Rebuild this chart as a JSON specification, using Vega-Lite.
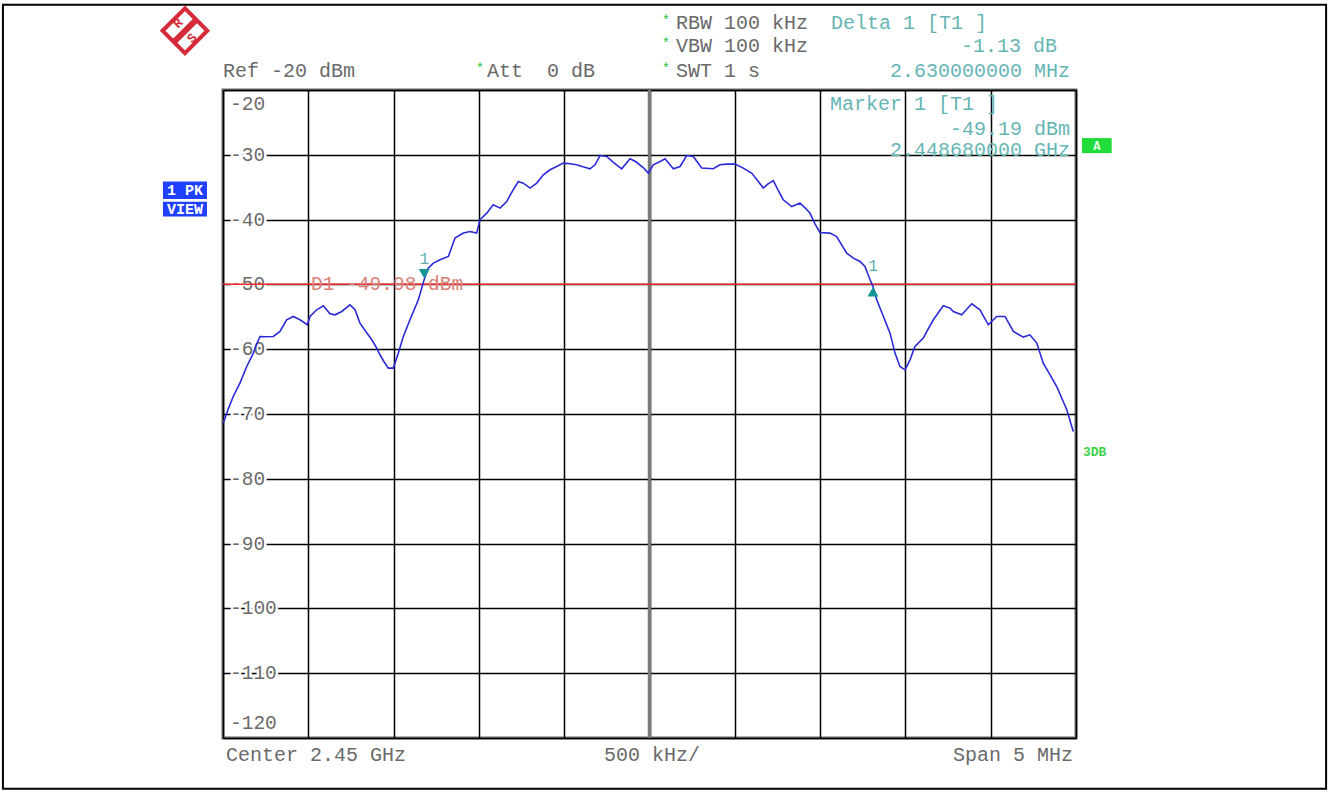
{
  "$schema": "https://vega.github.io/schema/vega-lite/v6.json",
  "width": 853,
  "height": 648,
  "autosize": {"type": "none"},
  "padding": {"left": 223, "top": 90, "right": 253, "bottom": 54},
  "background": "white",
  "config": {
    "view": {"stroke": "#6a6a6a", "strokeWidth": 3},
    "text": {"font": "Liberation Mono"}
  },
  "datasets": {
    "trace": [
      {"f":2447.502,"p":-71.40},{"f":2447.529,"p":-69.35},{"f":2447.560,"p":-67.30},{"f":2447.600,"p":-65.19},{"f":2447.639,"p":-62.67},{"f":2447.678,"p":-60.60},{"f":2447.693,"p":-59.48},{"f":2447.717,"p":-58.04},{"f":2447.752,"p":-58.09},{"f":2447.795,"p":-58.04},{"f":2447.834,"p":-57.27},{"f":2447.873,"p":-55.46},{"f":2447.912,"p":-54.95},{"f":2447.951,"p":-55.46},{"f":2447.994,"p":-56.23},{"f":2448.010,"p":-54.95},{"f":2448.049,"p":-53.92},{"f":2448.088,"p":-53.30},{"f":2448.127,"p":-54.54},{"f":2448.157,"p":-54.69},{"f":2448.196,"p":-54.18},{"f":2448.244,"p":-53.15},{"f":2448.274,"p":-53.92},{"f":2448.303,"p":-55.97},{"f":2448.338,"p":-57.31},{"f":2448.372,"p":-58.55},{"f":2448.397,"p":-59.63},{"f":2448.420,"p":-60.86},{"f":2448.444,"p":-61.94},{"f":2448.469,"p":-62.92},{"f":2448.498,"p":-62.92},{"f":2448.528,"p":-60.60},{"f":2448.557,"p":-58.04},{"f":2448.596,"p":-55.46},{"f":2448.645,"p":-52.38},{"f":2448.680,"p":-49.19},{"f":2448.703,"p":-47.48},{"f":2448.733,"p":-46.71},{"f":2448.772,"p":-46.20},{"f":2448.821,"p":-45.69},{"f":2448.860,"p":-42.85},{"f":2448.909,"p":-42.08},{"f":2448.948,"p":-41.84},{"f":2448.987,"p":-42.08},{"f":2449.006,"p":-40.03},{"f":2449.046,"p":-39.00},{"f":2449.084,"p":-37.72},{"f":2449.124,"p":-38.23},{"f":2449.163,"p":-37.21},{"f":2449.194,"p":-35.71},{"f":2449.231,"p":-34.12},{"f":2449.260,"p":-34.37},{"f":2449.300,"p":-35.14},{"f":2449.339,"p":-34.37},{"f":2449.378,"p":-33.09},{"f":2449.417,"p":-32.31},{"f":2449.456,"p":-31.81},{"f":2449.495,"p":-31.28},{"f":2449.534,"p":-31.39},{"f":2449.573,"p":-31.54},{"f":2449.610,"p":-31.85},{"f":2449.651,"p":-32.16},{"f":2449.681,"p":-31.54},{"f":2449.710,"p":-30.11},{"f":2449.749,"p":-30.26},{"f":2449.792,"p":-31.23},{"f":2449.837,"p":-32.16},{"f":2449.886,"p":-30.62},{"f":2449.921,"p":-31.08},{"f":2449.964,"p":-32.01},{"f":2449.993,"p":-32.82},{"f":2450.022,"p":-31.54},{"f":2450.062,"p":-31.03},{"f":2450.091,"p":-30.62},{"f":2450.140,"p":-32.16},{"f":2450.179,"p":-31.81},{"f":2450.218,"p":-30.11},{"f":2450.257,"p":-30.26},{"f":2450.306,"p":-32.05},{"f":2450.374,"p":-32.16},{"f":2450.413,"p":-31.54},{"f":2450.453,"p":-31.44},{"f":2450.501,"p":-31.44},{"f":2450.550,"p":-32.05},{"f":2450.599,"p":-32.82},{"f":2450.630,"p":-33.86},{"f":2450.667,"p":-35.14},{"f":2450.695,"p":-34.48},{"f":2450.726,"p":-33.97},{"f":2450.753,"p":-35.40},{"f":2450.784,"p":-36.94},{"f":2450.834,"p":-37.98},{"f":2450.882,"p":-37.45},{"f":2450.912,"p":-38.18},{"f":2450.941,"p":-39.00},{"f":2450.970,"p":-40.65},{"f":2450.999,"p":-41.99},{"f":2451.058,"p":-42.08},{"f":2451.097,"p":-42.61},{"f":2451.156,"p":-45.17},{"f":2451.195,"p":-45.94},{"f":2451.234,"p":-46.47},{"f":2451.263,"p":-47.24},{"f":2451.293,"p":-49.29},{"f":2451.310,"p":-50.32},{"f":2451.332,"p":-52.38},{"f":2451.371,"p":-54.95},{"f":2451.410,"p":-57.52},{"f":2451.439,"p":-60.60},{"f":2451.468,"p":-62.67},{"f":2451.498,"p":-63.18},{"f":2451.527,"p":-61.64},{"f":2451.556,"p":-59.58},{"f":2451.605,"p":-58.29},{"f":2451.625,"p":-57.27},{"f":2451.664,"p":-55.46},{"f":2451.722,"p":-53.30},{"f":2451.762,"p":-53.66},{"f":2451.781,"p":-54.18},{"f":2451.830,"p":-54.69},{"f":2451.889,"p":-52.99},{"f":2451.937,"p":-53.92},{"f":2451.986,"p":-56.23},{"f":2452.035,"p":-54.95},{"f":2452.084,"p":-54.95},{"f":2452.133,"p":-57.27},{"f":2452.191,"p":-58.13},{"f":2452.230,"p":-57.78},{"f":2452.270,"p":-59.06},{"f":2452.308,"p":-62.15},{"f":2452.348,"p":-63.95},{"f":2452.387,"p":-65.76},{"f":2452.446,"p":-69.35},{"f":2452.484,"p":-72.70}
    ],
    "ylabels": [
      {"f":2447.541,"p":-22.13,"t":"-20"},{"f":2447.541,"p":-30,"t":"-30"},{"f":2447.541,"p":-40,"t":"-40"},{"f":2447.541,"p":-50,"t":"-50"},{"f":2447.541,"p":-60,"t":"-60"},{"f":2447.541,"p":-70,"t":"-70"},{"f":2447.541,"p":-80,"t":"-80"},{"f":2447.541,"p":-90,"t":"-90"},{"f":2447.541,"p":-100,"t":"-100"},{"f":2447.541,"p":-110,"t":"-110"},{"f":2447.541,"p":-117.65,"t":"-120"}
    ]
  },
  "encoding": {
    "x": {"field": "f", "type": "quantitative", "scale": {"domain": [2447.5, 2452.5], "nice": false, "zero": false},
      "axis": {"title": null, "grid": true, "gridColor": "#000000", "gridWidth": 1.5, "gridOpacity": 1, "labels": false, "ticks": false, "domain": false, "tickCount": 10}},
    "y": {"field": "p", "type": "quantitative", "scale": {"domain": [-120, -20], "nice": false, "zero": false},
      "axis": {"title": null, "grid": true, "gridColor": "#000000", "gridWidth": 1.5, "gridOpacity": 1, "labels": false, "ticks": false, "domain": false, "tickCount": 10}}
  },
  "layer": [
    {
      "data": {"values": [{"f": 2446.21, "f2": 2453.966, "p": -6.85, "p2": -127.84}]},
      "mark": {"type": "rect", "filled": false, "stroke": "#000000", "strokeWidth": 2},
      "encoding": {"x2": {"field": "f2"}, "y2": {"field": "p2"}}
    },
    {
      "data": {"values": [{"f": 2450, "p": -20, "p2": -120}]},
      "mark": {"type": "rule", "color": "#7a7a7a", "strokeWidth": 3.5},
      "encoding": {"y2": {"field": "p2"}}
    },
    {
      "data": {"name": "ylabels"},
      "mark": {"type": "text", "align": "left", "baseline": "middle", "fontSize": 19.5, "color": "white", "stroke": "white", "strokeWidth": 5},
      "encoding": {"text": {"field": "t"}}
    },
    {
      "data": {"name": "ylabels"},
      "mark": {"type": "text", "align": "left", "baseline": "middle", "fontSize": 19.5, "color": "#6a6a6a"},
      "encoding": {"text": {"field": "t"}}
    },
    {
      "data": {"values": [{"f": 2447.5, "f2": 2452.5, "p": -49.98}]},
      "mark": {"type": "rule", "color": "#f02828", "strokeWidth": 1.5},
      "encoding": {"x2": {"field": "f2"}}
    },
    {
      "data": {"values": [{"f": 2448.016, "p": -49.98, "t": "D1 -49.98 dBm"}]},
      "mark": {"type": "text", "align": "left", "baseline": "middle", "fontSize": 19.5, "color": "#dc8078"},
      "encoding": {"text": {"field": "t"}}
    },
    {
      "data": {"name": "trace"},
      "mark": {"type": "line", "color": "#2a2ad8", "strokeWidth": 1.6, "interpolate": "linear"}
    },
    {
      "data": {"values": [{"f": 2448.68, "p": -48.37}]},
      "mark": {"type": "point", "shape": "triangle-down", "filled": true, "size": 120, "color": "#139595", "opacity": 1}
    },
    {
      "data": {"values": [{"f": 2451.31, "p": -51.14}]},
      "mark": {"type": "point", "shape": "triangle-up", "filled": true, "size": 120, "color": "#139595", "opacity": 1}
    },
    {
      "data": {"values": [{"f": 2448.68, "p": -46.05, "t": "1"}, {"f": 2451.31, "p": -47.13, "t": "1"}]},
      "mark": {"type": "text", "align": "center", "baseline": "middle", "fontSize": 16, "color": "#5fb0b0"},
      "encoding": {"text": {"field": "t"}}
    },
    {
      "data": {"values": [
        {"f": 2447.5, "p": -17.04, "t": "Ref -20 dBm"},
        {"f": 2449.048, "p": -17.04, "t": "Att\u00a0\u00a00 dB"},
        {"f": 2450.155, "p": -9.63, "t": "RBW 100 kHz"},
        {"f": 2450.155, "p": -13.18, "t": "VBW 100 kHz"},
        {"f": 2450.155, "p": -17.04, "t": "SWT 1 s"},
        {"f": 2447.518, "p": -122.59, "t": "Center 2.45 GHz"}
      ]},
      "mark": {"type": "text", "align": "left", "baseline": "middle", "fontSize": 20, "color": "#6a6a6a"},
      "encoding": {"text": {"field": "t"}}
    },
    {
      "data": {"values": [{"f": 2450.015, "p": -122.59, "t": "500 kHz/"}]},
      "mark": {"type": "text", "align": "center", "baseline": "middle", "fontSize": 20, "color": "#6a6a6a"},
      "encoding": {"text": {"field": "t"}}
    },
    {
      "data": {"values": [{"f": 2452.482, "p": -122.59, "t": "Span 5 MHz"}]},
      "mark": {"type": "text", "align": "right", "baseline": "middle", "fontSize": 20, "color": "#6a6a6a"},
      "encoding": {"text": {"field": "t"}}
    },
    {
      "data": {"values": [
        {"f": 2451.064, "p": -9.63, "t": "Delta 1 [T1 ]"},
        {"f": 2451.058, "p": -22.13, "t": "Marker 1 [T1 ]"}
      ]},
      "mark": {"type": "text", "align": "left", "baseline": "middle", "fontSize": 20, "color": "#66b5b5"},
      "encoding": {"text": {"field": "t"}}
    },
    {
      "data": {"values": [
        {"f": 2452.389, "p": -13.18, "t": "-1.13 dB"},
        {"f": 2452.465, "p": -17.04, "t": "2.630000000 MHz"},
        {"f": 2452.465, "p": -25.99, "t": "-49.19 dBm"},
        {"f": 2452.465, "p": -29.23, "t": "2.448680000 GHz"}
      ]},
      "mark": {"type": "text", "align": "right", "baseline": "middle", "fontSize": 20, "color": "#66b5b5"},
      "encoding": {"text": {"field": "t"}}
    },
    {
      "data": {"values": [
        {"f": 2449.006, "p": -16.7, "t": "*"},
        {"f": 2450.097, "p": -9.3, "t": "*"},
        {"f": 2450.097, "p": -12.85, "t": "*"},
        {"f": 2450.097, "p": -16.7, "t": "*"}
      ]},
      "mark": {"type": "text", "align": "center", "baseline": "middle", "fontSize": 14, "color": "#2fbf4a"},
      "encoding": {"text": {"field": "t"}}
    },
    {
      "data": {"values": [
        {"f": 2447.148, "f2": 2447.406, "p": -34.11, "p2": -36.83},
        {"f": 2447.148, "f2": 2447.406, "p": -37.25, "p2": -39.52}
      ]},
      "mark": {"type": "rect", "color": "#2040ff"},
      "encoding": {"x2": {"field": "f2"}, "y2": {"field": "p2"}}
    },
    {
      "data": {"values": [
        {"f": 2447.277, "p": -35.47, "t": "1 PK"},
        {"f": 2447.277, "p": -38.39, "t": "VIEW"}
      ]},
      "mark": {"type": "text", "align": "center", "baseline": "middle", "fontSize": 15, "fontWeight": "bold", "color": "white"},
      "encoding": {"text": {"field": "t"}}
    },
    {
      "data": {"values": [{"f": 2452.535, "f2": 2452.709, "p": -27.42, "p2": -29.74}]},
      "mark": {"type": "rect", "color": "#1fdc3a"},
      "encoding": {"x2": {"field": "f2"}, "y2": {"field": "p2"}}
    },
    {
      "data": {"values": [{"f": 2452.622, "p": -28.58, "t": "A"}]},
      "mark": {"type": "text", "align": "center", "baseline": "middle", "fontSize": 12, "fontWeight": "bold", "color": "#e8ffe8"},
      "encoding": {"text": {"field": "t"}}
    },
    {
      "data": {"values": [{"f": 2452.541, "p": -75.83, "t": "3DB"}]},
      "mark": {"type": "text", "align": "left", "baseline": "middle", "fontSize": 13, "fontWeight": "bold", "color": "#3cd24a"},
      "encoding": {"text": {"field": "t"}}
    },
    {
      "data": {"values": [{"f": 2447.277, "p": -10.86}]},
      "mark": {"type": "point", "shape": "diamond", "filled": false, "size": 2000, "stroke": "#d42a3a", "strokeWidth": 4, "opacity": 1}
    },
    {
      "data": {"values": [{"f": 2447.210, "f2": 2447.345, "p": -12.64, "p2": -9.09}]},
      "mark": {"type": "rule", "color": "#d42a3a", "strokeWidth": 6},
      "encoding": {"x2": {"field": "f2"}, "y2": {"field": "p2"}}
    },
    {
      "data": {"values": [
        {"f": 2447.236, "p": -9.7, "t": "R"},
        {"f": 2447.318, "p": -12.0, "t": "S"}
      ]},
      "mark": {"type": "text", "align": "center", "baseline": "middle", "fontSize": 13, "fontWeight": "bold", "angle": 315, "color": "#d42a3a"},
      "encoding": {"text": {"field": "t"}}
    }
  ]
}
